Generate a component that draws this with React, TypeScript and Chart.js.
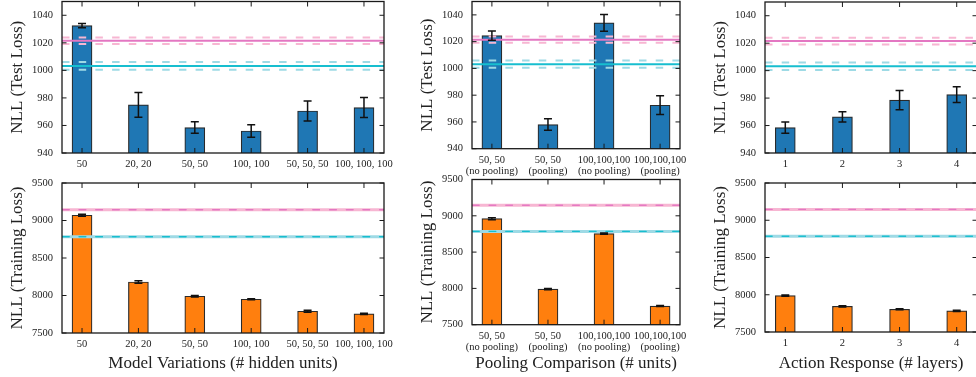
import React, { useEffect, useRef } from 'react';
import { Chart, registerables } from 'chart.js';

Chart.register(...registerables);

const FONT = "'Liberation Serif', 'Times New Roman', Times, serif";
const TEXT = '#222222';

// ---- categories / tick labels ----
const modelLabels = ['50', '20, 20', '50, 50', '100, 100', '50, 50, 50', '100, 100, 100'];
const poolingLabels = [
  ['50, 50', '(no pooling)'],
  ['50, 50', '(pooling)'],
  ['100,100,100', '(no pooling)'],
  ['100,100,100', '(pooling)'],
];
const layerLabels = ['1', '2', '3', '4'];

const testTicks = [940, 960, 980, 1000, 1020, 1040];
const trainTicks = [7500, 8000, 8500, 9000, 9500];

// ---- series values ----
const modelTest = [1032.5, 975, 958.5, 956, 970.5, 973];
const modelTestErr = [1.5, 9, 4.2, 4.5, 7.3, 7.3];
const modelTrain = [9070, 8180, 7990, 7950, 7790, 7755];
const modelTrainErr = [12, 18, 10, 8, 12, 8];

const poolingTest = [1024.5, 958, 1034, 972.5];
const poolingTestErr = [3.5, 4.3, 6.2, 7];
const poolingTrain = [8960, 7990, 8755, 7757];
const poolingTrainErr = [14, 8, 8, 8];

const layerTest = [958.5, 966.3, 978.5, 982.5];
const layerTestErr = [4.1, 3.7, 7, 5.8];
const layerTrain = [7988, 7845, 7805, 7783];
const layerTrainErr = [9, 8, 8, 8];

// ---- reference lines: [pink, cyan] ----
const testRefMean = [1021.5, 1003.2];
const testRefStd = [2.4, 2.8];
const trainRefMean = [9145, 8785];
const trainRefStd = [0.5, 0.5];
const refDark = ['#e377c2', '#17becf'];
const refLight = ['#f7b6d2', '#9edae5'];

const BLUE = '#1f77b4';
const ORANGE = '#ff7f0e';
const X_PAD = 0.355;

type Panel = {
  id: string;
  left: number;
  top: number;
  width: number;
  height: number;
  area: { l: number; t: number; r: number; b: number };
  labels: any[];
  values: number[];
  errors: number[];
  yMin: number;
  yMax: number;
  yTicks: number[];
  yTitle: string;
  xTitle?: string;
  color: string;
  refMean: number[];
  refStd: number[];
  mode: 'test' | 'train';
};

const ROW1 = { top: -20, height: 198 };
const ROW2 = { top: 160, height: 217 };

const panels: Panel[] = [
  {
    id: 'p1t', left: 0, width: 406, ...ROW1,
    area: { l: 62, t: 1.5, r: 384, b: 153 },
    labels: modelLabels, values: modelTest, errors: modelTestErr,
    yMin: 940, yMax: 1050, yTicks: testTicks, yTitle: 'NLL (Test Loss)',
    color: BLUE, refMean: testRefMean, refStd: testRefStd, mode: 'test',
  },
  {
    id: 'p2t', left: 410, width: 292, ...ROW1,
    area: { l: 472, t: 1.5, r: 680, b: 148.7 },
    labels: poolingLabels, values: poolingTest, errors: poolingTestErr,
    yMin: 940, yMax: 1050, yTicks: testTicks, yTitle: 'NLL (Test Loss)',
    color: BLUE, refMean: testRefMean, refStd: testRefStd, mode: 'test',
  },
  {
    id: 'p3t', left: 703, width: 296, ...ROW1,
    area: { l: 765, t: 2, r: 977, b: 153 },
    labels: layerLabels, values: layerTest, errors: layerTestErr,
    yMin: 940, yMax: 1050, yTicks: testTicks, yTitle: 'NLL (Test Loss)',
    color: BLUE, refMean: testRefMean, refStd: testRefStd, mode: 'test',
  },
  {
    id: 'p1b', left: 0, width: 406, ...ROW2,
    area: { l: 62, t: 183, r: 384, b: 333 },
    labels: modelLabels, values: modelTrain, errors: modelTrainErr,
    yMin: 7500, yMax: 9500, yTicks: trainTicks, yTitle: 'NLL (Training Loss)',
    xTitle: 'Model Variations (# hidden units)',
    color: ORANGE, refMean: trainRefMean, refStd: trainRefStd, mode: 'train',
  },
  {
    id: 'p2b', left: 410, width: 292, ...ROW2,
    area: { l: 472, t: 179.5, r: 680, b: 324.7 },
    labels: poolingLabels, values: poolingTrain, errors: poolingTrainErr,
    yMin: 7500, yMax: 9500, yTicks: trainTicks, yTitle: 'NLL (Training Loss)',
    xTitle: 'Pooling Comparison (# units)',
    color: ORANGE, refMean: trainRefMean, refStd: trainRefStd, mode: 'train',
  },
  {
    id: 'p3b', left: 703, width: 296, ...ROW2,
    area: { l: 765, t: 183, r: 977, b: 332 },
    labels: layerLabels, values: layerTrain, errors: layerTrainErr,
    yMin: 7500, yMax: 9500, yTicks: trainTicks, yTitle: 'NLL (Training Loss)',
    xTitle: 'Action Response (# layers)',
    color: ORANGE, refMean: trainRefMean, refStd: trainRefStd, mode: 'train',
  },
];

function makeOverlay(p: Panel) {
  return {
    id: 'overlay_' + p.id,
    afterDatasetsDraw(chart: any) {
      const { ctx, chartArea: a, scales } = chart;
      const x = scales.x;
      const y = scales.y;
      const hline = (v: number) => {
        const py = y.getPixelForValue(v);
        ctx.beginPath();
        ctx.moveTo(a.left, py);
        ctx.lineTo(a.right, py);
        ctx.stroke();
      };
      // reference lines
      ctx.save();
      ctx.beginPath();
      ctx.rect(a.left, a.top, a.right - a.left, a.bottom - a.top);
      ctx.clip();
      p.refMean.forEach((m, k) => {
        const s = p.refStd[k];
        if (p.mode === 'test') {
          ctx.setLineDash([7.5, 9.2]);
          ctx.lineWidth = 2;
          ctx.strokeStyle = refLight[k];
          hline(m - s);
          hline(m + s);
          ctx.setLineDash([]);
          ctx.lineWidth = 2;
          ctx.strokeStyle = refDark[k];
          hline(m);
        } else {
          ctx.setLineDash([]);
          ctx.lineWidth = 3;
          ctx.strokeStyle = refLight[k];
          hline(m);
          ctx.setLineDash([7.5, 9.2]);
          ctx.lineWidth = 1.1;
          ctx.strokeStyle = refDark[k];
          hline(m - s);
          hline(m + s);
        }
      });
      ctx.restore();

      // error bars
      ctx.save();
      ctx.strokeStyle = '#111111';
      ctx.lineWidth = 1.5;
      p.values.forEach((v, i) => {
        const e = p.errors[i];
        const px = x.getPixelForValue(i);
        const y1 = y.getPixelForValue(v - e);
        const y2 = y.getPixelForValue(v + e);
        ctx.beginPath();
        ctx.moveTo(px, y1);
        ctx.lineTo(px, y2);
        ctx.moveTo(px - 4, y1);
        ctx.lineTo(px + 4, y1);
        ctx.moveTo(px - 4, y2);
        ctx.lineTo(px + 4, y2);
        ctx.stroke();
      });
      ctx.restore();

      // frame and inward ticks
      ctx.save();
      ctx.strokeStyle = '#1a1a1a';
      ctx.lineWidth = 1;
      y.ticks.forEach((t: any) => {
        const py = y.getPixelForValue(t.value);
        ctx.beginPath();
        ctx.moveTo(a.left, py);
        ctx.lineTo(a.left + 4.5, py);
        ctx.moveTo(a.right, py);
        ctx.lineTo(a.right - 4.5, py);
        ctx.stroke();
      });
      x.ticks.forEach((t: any) => {
        const px = x.getPixelForValue(t.value);
        ctx.beginPath();
        ctx.moveTo(px, a.top);
        ctx.lineTo(px, a.top + 5);
        ctx.moveTo(px, a.bottom);
        ctx.lineTo(px, a.bottom - 5);
        ctx.stroke();
      });
      ctx.lineWidth = 1.3;
      ctx.strokeRect(a.left, a.top, a.right - a.left, a.bottom - a.top);
      ctx.restore();
    },
  };
}

function PanelChart({ p }: { p: Panel }) {
  const ref = useRef<HTMLCanvasElement | null>(null);
  useEffect(() => {
    if (!ref.current) return;
    const n = p.labels.length;
    const chart = new Chart(ref.current, {
      type: 'bar',
      data: {
        datasets: [
          {
            data: p.values.map((v, i) => ({ x: i, y: v })),
            backgroundColor: p.color,
            borderColor: '#2a2a2a',
            borderWidth: 1.2,
            barThickness: 20,
          } as any,
        ],
      },
      options: {
        responsive: false,
        animation: false,
        devicePixelRatio: 1,
        layout: {
          padding: {
            left: 0,
            top: p.area.t - p.top,
            right: p.left + p.width - p.area.r,
            bottom: 0,
          },
        },
        plugins: {
          legend: { display: false },
          tooltip: { enabled: false },
        },
        scales: {
          x: {
            type: 'linear',
            min: -X_PAD,
            max: n - 1 + X_PAD,
            bounds: 'data',
            offset: false,
            afterBuildTicks: (s: any) => {
              s.ticks = p.labels.map((_: any, i: number) => ({ value: i }));
            },
            afterFit: (s: any) => {
              s.height = p.top + p.height - p.area.b;
            },
            grid: { display: false, drawTicks: false },
            border: { display: false },
            ticks: {
              autoSkip: false,
              maxRotation: 0,
              minRotation: 0,
              padding: 6,
              color: TEXT,
              font: { family: FONT, size: 10.5, lineHeight: 1.05 },
              callback: (v: any) => p.labels[Math.round(v)],
            },
            title: p.xTitle
              ? {
                  display: true,
                  text: p.xTitle,
                  color: TEXT,
                  font: { family: FONT, size: 17, lineHeight: 1.2 },
                  padding: { top: 0, bottom: 3.5 },
                }
              : { display: false },
          },
          y: {
            type: 'linear',
            min: p.yMin,
            max: p.yMax,
            bounds: 'data',
            afterBuildTicks: (s: any) => {
              s.ticks = p.yTicks.map((v) => ({ value: v }));
            },
            afterFit: (s: any) => {
              s.width = p.area.l - p.left;
            },
            grid: { display: false, drawTicks: false },
            border: { display: false },
            ticks: {
              padding: 9,
              color: TEXT,
              font: { family: FONT, size: 10.5 },
              callback: (v: any) => String(v),
            },
            title: {
              display: true,
              text: p.yTitle,
              color: TEXT,
              font: { family: FONT, size: 17, lineHeight: 1.2 },
              padding: { top: 7.3, bottom: 0 },
            },
          },
        },
      } as any,
      plugins: [makeOverlay(p)],
    });
    return () => chart.destroy();
  }, []);
  return (
    <canvas
      ref={ref}
      width={p.width}
      height={p.height}
      style={{
        position: 'absolute',
        left: p.left,
        top: p.top,
        width: p.width,
        height: p.height,
        display: 'block',
      }}
    />
  );
}

export default function App() {
  return (
    <div
      style={{
        position: 'absolute',
        left: 0,
        top: 0,
        width: 976,
        height: 377,
        overflow: 'hidden',
        background: '#ffffff',
      }}
    >
      {panels.map((p) => (
        <PanelChart key={p.id} p={p} />
      ))}
    </div>
  );
}
